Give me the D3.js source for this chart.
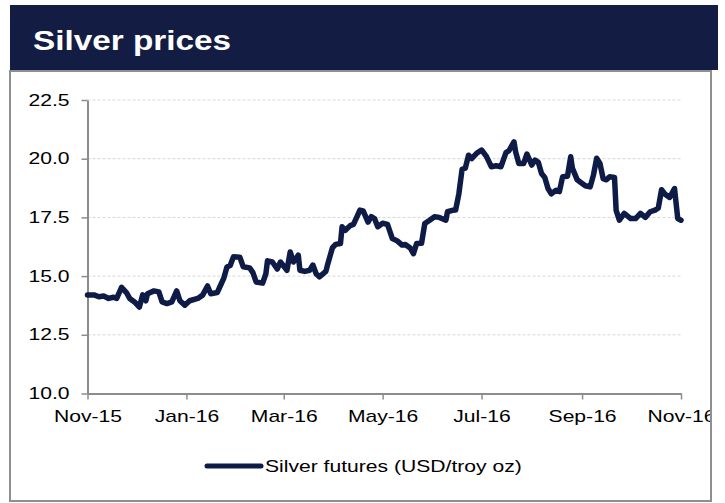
<!DOCTYPE html>
<html lang="en">
<head>
    <meta charset="UTF-8">
    <script src="https://d3js.org/d3.v7.min.js"></script>
    <style>
        body {
            margin: 0;
            background: #ffffff;
        }
        svg text {
            font-family: Arial, "Liberation Sans", sans-serif;
        }
    </style>
</head>
<body>
    <svg width="725" height="503"></svg>
    <script>
        // silver futures
        var dates = [
            "2015-11-01","2015-11-05","2015-11-08","2015-11-11","2015-11-14","2015-11-17","2015-11-19","2015-11-22",
            "2015-11-25","2015-11-27","2015-11-30","2015-12-03","2015-12-05","2015-12-07","2015-12-08","2015-12-12",
            "2015-12-15","2015-12-17","2015-12-20","2015-12-23","2015-12-26","2015-12-28","2015-12-31","2016-01-03",
            "2016-01-08","2016-01-11","2016-01-14","2016-01-16","2016-01-20","2016-01-22","2016-01-24","2016-01-26",
            "2016-01-28","2016-01-30","2016-02-03","2016-02-05","2016-02-09","2016-02-11","2016-02-13","2016-02-17",
            "2016-02-19","2016-02-20","2016-02-23","2016-02-26","2016-02-28","2016-03-03","2016-03-05","2016-03-07",
            "2016-03-10","2016-03-11","2016-03-14","2016-03-17","2016-03-19","2016-03-21","2016-03-23","2016-03-27",
            "2016-03-28","2016-03-31","2016-04-02","2016-04-05","2016-04-06","2016-04-08","2016-04-11","2016-04-13",
            "2016-04-15","2016-04-17","2016-04-19","2016-04-22","2016-04-24","2016-04-26","2016-04-28","2016-05-01",
            "2016-05-04","2016-05-07","2016-05-10","2016-05-13","2016-05-15","2016-05-18","2016-05-20","2016-05-22",
            "2016-05-25","2016-05-27","2016-05-30","2016-06-02","2016-06-05","2016-06-09","2016-06-10","2016-06-13",
            "2016-06-15","2016-06-17","2016-06-19","2016-06-21","2016-06-23","2016-06-25","2016-06-28","2016-07-01",
            "2016-07-04","2016-07-07","2016-07-10","2016-07-13","2016-07-16","2016-07-18","2016-07-21","2016-07-22",
            "2016-07-24","2016-07-27","2016-07-29","2016-08-01","2016-08-03","2016-08-05","2016-08-07","2016-08-09",
            "2016-08-11","2016-08-13","2016-08-16","2016-08-18","2016-08-20","2016-08-23","2016-08-25","2016-08-26",
            "2016-08-29","2016-08-31","2016-09-03","2016-09-06","2016-09-08","2016-09-10","2016-09-12","2016-09-14",
            "2016-09-16","2016-09-18","2016-09-21","2016-09-22","2016-09-24","2016-09-27","2016-10-01","2016-10-04",
            "2016-10-07","2016-10-10","2016-10-13","2016-10-16","2016-10-18","2016-10-20","2016-10-22","2016-10-25",
            "2016-10-28","2016-10-30","2016-11-01"
        ];
        var prices = [
            14.2, 14.2, 14.12, 14.15, 14.05, 14.1, 14.05, 14.52,
            14.3, 14.05, 13.9, 13.68, 14.2, 13.95, 14.25, 14.37,
            14.33, 13.9, 13.83, 13.9, 14.37, 13.95, 13.76, 13.95,
            14.05, 14.19, 14.58, 14.25, 14.3, 14.6, 14.9, 15.39,
            15.45, 15.82, 15.8, 15.4, 15.35, 15.15, 14.75, 14.7,
            15.1, 15.65, 15.6, 15.3, 15.6, 15.25, 16.03, 15.6,
            15.89, 15.25, 15.2, 15.25, 15.47, 15.1, 14.97, 15.2,
            15.47, 16.2, 16.35, 16.39, 17.1, 16.95, 17.15, 17.2,
            17.5, 17.81, 17.78, 17.3, 17.53, 17.45, 17.1, 17.25,
            17.2, 16.6, 16.5, 16.32, 16.35, 16.2, 15.96, 16.39,
            16.4, 17.24, 17.38, 17.53, 17.5, 17.38, 17.74, 17.8,
            17.81, 18.5, 19.55, 19.6, 20.15, 20.01, 20.23, 20.37,
            20.1, 19.66, 19.7, 19.66, 20.25, 20.35, 20.72, 20.3,
            19.8, 19.8, 20.2, 19.73, 19.94, 19.85, 19.37, 19.2,
            18.73, 18.5, 18.66, 18.6, 19.23, 19.25, 20.08, 19.6,
            19.1, 19.0, 18.85, 18.8, 19.3, 20.02, 19.8, 19.15,
            19.1, 19.23, 19.2, 17.8, 17.38, 17.67, 17.45, 17.45,
            17.67, 17.5, 17.74, 17.81, 17.9, 18.68, 18.5, 18.35,
            18.73, 17.45, 17.38
        ];
        var yTicks = [10, 12.5, 15, 17.5, 20, 22.5];
        var xTicks = ["2015-11-01","2016-01-01","2016-03-01","2016-05-01","2016-07-01","2016-09-01","2016-11-01"];
        var seriesName = "Silver futures (USD/troy oz)";
        var title = "Silver prices";

        var parse = d3.timeParse("%Y-%m-%d");
        var data = dates.map(function(d, i) { return {date: parse(d), value: prices[i]}; });

        var navy = "#0d1b46";
        var stretch = "scale(1.32,1)";

        var svg = d3.select("svg");

        // title banner
        svg.append("rect")
            .attr("x", 10).attr("y", 5)
            .attr("width", 708).attr("height", 65)
            .attr("fill", "#131c42");
        svg.append("text")
            .attr("transform", "translate(33,50) scale(1.19,1)")
            .attr("font-size", "28px")
            .attr("font-weight", "bold")
            .attr("fill", "#ffffff")
            .text(title);

        // chart frame
        svg.append("defs").append("clipPath").attr("id", "box")
            .append("rect").attr("x", 11).attr("y", 72).attr("width", 699).attr("height", 428);
        svg.append("rect")
            .attr("x", 10).attr("y", 71)
            .attr("width", 701).attr("height", 430)
            .attr("fill", "none")
            .attr("stroke", "#8f8f8f")
            .attr("stroke-width", 2);

        var g = svg.append("g").attr("clip-path", "url(#box)");

        var x = d3.scaleTime()
            .domain([parse(xTicks[0]), parse(xTicks[xTicks.length - 1])])
            .range([87.5, 681]);
        var y = d3.scaleLinear().domain([10, 22.5]).range([393.5, 100]);

        // grid
        g.append("g")
            .selectAll("line")
            .data(yTicks.slice(1))
            .enter()
            .append("line")
            .attr("x1", x.range()[0]).attr("x2", x.range()[1] + 1)
            .attr("y1", function(d) { return y(d); })
            .attr("y2", function(d) { return y(d); })
            .attr("stroke", "#d6d6d6")
            .attr("stroke-width", 1)
            .attr("stroke-dasharray", "3,2");

        // axes
        var yAxis = g.append("g")
            .attr("transform", "translate(" + x.range()[0] + ",0)")
            .call(d3.axisLeft(y).tickValues(yTicks).tickSize(6).tickSizeOuter(0).tickFormat(d3.format(".1f")));
        var xAxis = g.append("g")
            .attr("transform", "translate(0," + y(10) + ")")
            .call(d3.axisBottom(x).tickValues(xTicks.map(parse)).tickSize(6).tickSizeOuter(0).tickFormat(d3.timeFormat("%b-%y")));

        [yAxis, xAxis].forEach(function(a) {
            a.select(".domain").attr("stroke", "#8c8c8c").attr("stroke-width", 2);
            a.selectAll(".tick line").attr("stroke", "#8c8c8c").attr("stroke-width", 1.5);
            a.selectAll("text")
                .attr("font-size", "16px")
                .attr("font-family", "Arial, 'Liberation Sans', sans-serif")
                .attr("fill", "#000");
        });
        yAxis.selectAll("text").attr("x", -18 / 1.32).attr("transform", stretch);
        xAxis.selectAll("text").attr("y", 17).attr("transform", stretch);

        // series
        var line = d3.line()
            .x(function(d) { return x(d.date); })
            .y(function(d) { return y(d.value); });

        g.append("path")
            .datum(data)
            .attr("fill", "none")
            .attr("stroke", navy)
            .attr("stroke-width", 5.5)
            .attr("stroke-linejoin", "round")
            .attr("stroke-linecap", "round")
            .attr("d", line);

        // legend
        g.append("line")
            .attr("x1", 207).attr("x2", 261)
            .attr("y1", 466).attr("y2", 466)
            .attr("stroke", navy)
            .attr("stroke-width", 5)
            .attr("stroke-linecap", "round");
        g.append("text")
            .attr("transform", "translate(265,472) " + stretch)
            .attr("font-size", "16px")
            .attr("fill", "#000")
            .text(seriesName);
    </script>
</body>
</html>
